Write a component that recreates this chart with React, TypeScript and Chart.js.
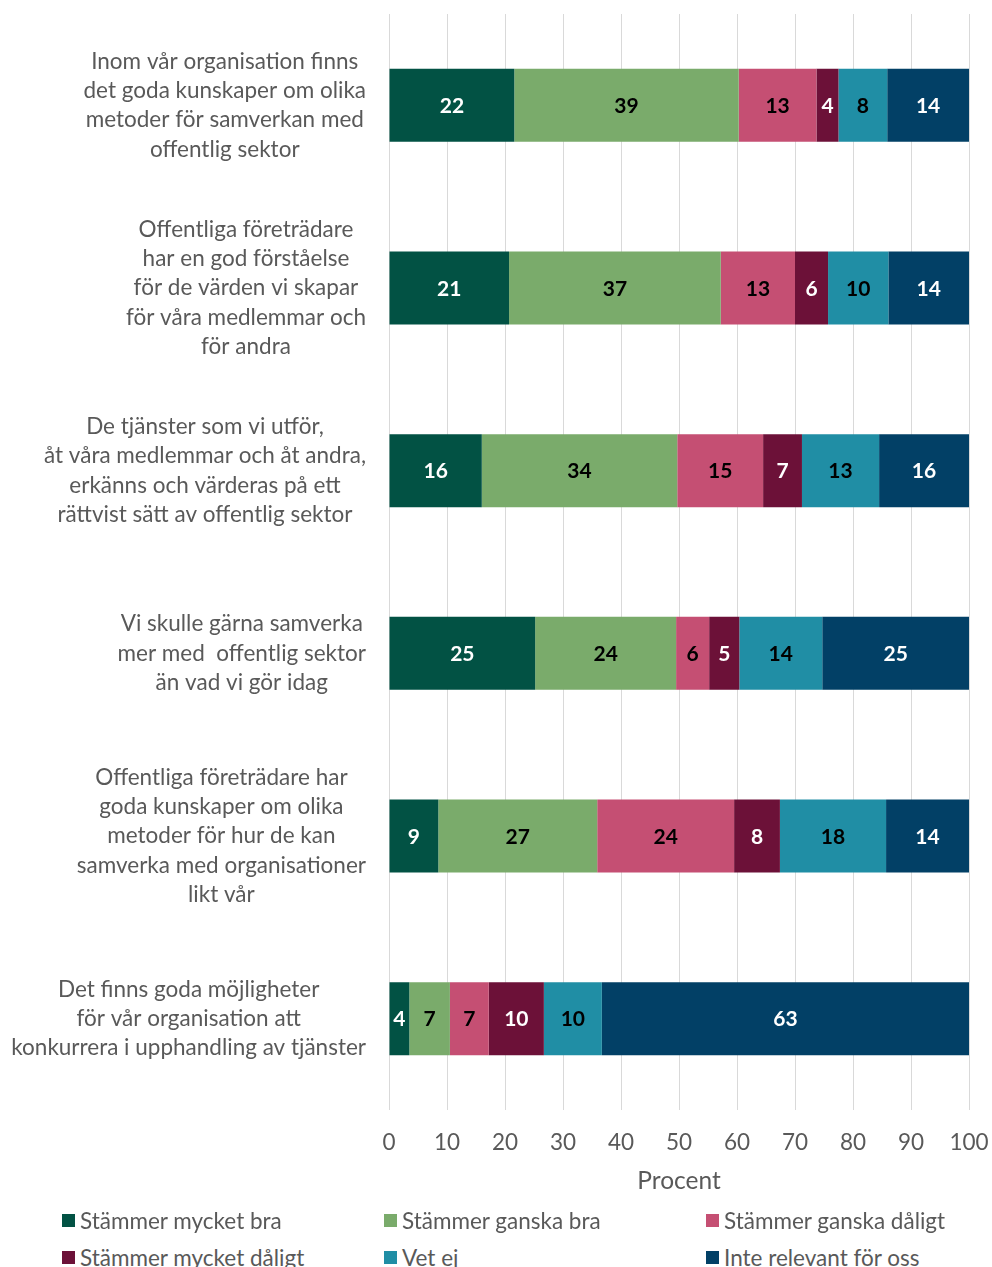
import React, { useEffect, useRef } from "react";
import { Chart, registerables } from "chart.js";

Chart.register(...registerables);

const categories: string[][] = [
  ["Inom vår organisation finns", "det goda kunskaper om olika", "metoder för samverkan med", "offentlig sektor"],
  ["Offentliga företrädare", "har en god förståelse", "för de värden vi skapar", "för våra medlemmar och", "för andra"],
  ["De tjänster som vi utför,", "åt våra medlemmar och åt andra,", "erkänns och värderas på ett", "rättvist sätt av offentlig sektor"],
  ["Vi skulle gärna samverka", "mer med  offentlig sektor", "än vad vi gör idag"],
  ["Offentliga företrädare har", "goda kunskaper om olika", "metoder för hur de kan", "samverka med organisationer", "likt vår"],
  ["Det finns goda möjligheter", "för vår organisation att", "konkurrera i upphandling av tjänster"],
];

const seriesNames = [
  "Stämmer mycket bra",
  "Stämmer ganska bra",
  "Stämmer ganska dåligt",
  "Stämmer mycket dåligt",
  "Vet ej",
  "Inte relevant för oss",
];

const mycketBra = [21.6, 20.7, 16.0, 25.2, 8.5, 3.5];
const ganskaBra = [38.7, 36.5, 33.7, 24.3, 27.4, 7.0];
const ganskaDaligt = [13.4, 12.8, 14.8, 5.7, 23.6, 6.7];
const mycketDaligt = [3.8, 5.7, 6.7, 5.2, 7.9, 9.5];
const vetEj = [8.4, 10.4, 13.3, 14.3, 18.3, 10.0];
const inteRelevant = [14.1, 13.9, 15.5, 25.3, 14.3, 63.3];

const xTicks = [0, 10, 20, 30, 40, 50, 60, 70, 80, 90, 100];

const colors = ["#025244", "#7AAB6B", "#C54F73", "#6C1138", "#208EA5", "#024066"];
const labelColors = ["#ffffff", "#000000", "#000000", "#ffffff", "#000000", "#ffffff"];

const FONT = "Lato, 'Open Sans', sans-serif";
const GREY = "#595959";

const labelsPlugin = {
  id: "customLabels",
  afterDraw(chart: any) {
    const ctx = chart.ctx;
    const yScale = chart.scales.y;
    const area = chart.chartArea;
    ctx.save();
    ctx.font = `22.5px ${FONT}`;
    ctx.fillStyle = GREY;
    ctx.textAlign = "center";
    ctx.textBaseline = "middle";
    const lineH = 29.3;
    const rightEdge = area.left - 23;
    categories.forEach((lines, i) => {
      const yc = yScale.getPixelForValue(i);
      const maxW = Math.max(...lines.map((l) => ctx.measureText(l).width));
      const cx = rightEdge - maxW / 2;
      const y0 = yc - ((lines.length - 1) * lineH) / 2;
      lines.forEach((l, j) => ctx.fillText(l, cx, y0 + j * lineH));
    });
    ctx.font = `bold 21px ${FONT}`;
    chart.data.datasets.forEach((ds: any, di: number) => {
      const meta = chart.getDatasetMeta(di);
      meta.data.forEach((el: any, i: number) => {
        const v = ds.data[i];
        const cx = (el.x + el.base) / 2;
        ctx.fillStyle = labelColors[di];
        ctx.fillText(String(Math.round(v)), cx, el.y + 1);
      });
    });
    ctx.restore();
  },
};

export default function App() {
  const ref = useRef<HTMLCanvasElement>(null);
  useEffect(() => {
    if (!ref.current) return;
    const seriesData = [mycketBra, ganskaBra, ganskaDaligt, mycketDaligt, vetEj, inteRelevant];
    const chart = new Chart(ref.current, {
      type: "bar",
      data: {
        labels: categories.map((c) => c.join(" ")),
        datasets: seriesData.map((d, i) => ({
          label: seriesNames[i],
          data: d,
          backgroundColor: colors[i],
          borderWidth: 0,
          barPercentage: 0.8,
          categoryPercentage: 0.5,
        })),
      },
      options: {
        indexAxis: "y",
        animation: false,
        responsive: false,
        layout: { padding: { left: 0, right: 23, top: 6, bottom: 0 } },
        plugins: { legend: { display: false }, tooltip: { enabled: false } },
        scales: {
          x: {
            stacked: true,
            min: 0,
            max: 100,
            afterBuildTicks: (scale: any) => {
              scale.ticks = xTicks.map((v) => ({ value: v }));
            },
            grid: { color: "#d9d9d9", drawTicks: false, lineWidth: 1 },
            border: { display: false },
            ticks: { color: GREY, font: { family: FONT, size: 22.5 }, padding: 19 },
            title: {
              display: true,
              text: "Procent",
              color: GREY,
              font: { family: FONT, size: 24.5 },
              padding: { top: 0, bottom: 12 },
            },
            afterFit: (scale: any) => {
              scale.height = 98;
              scale.paddingLeft = 0;
              scale.paddingRight = 0;
            },
          },
          y: {
            stacked: true,
            grid: { display: false },
            border: { display: false },
            ticks: { display: false },
            afterFit: (scale: any) => {
              scale.width = 381;
            },
          },
        },
      },
      plugins: [labelsPlugin],
    } as any);
    return () => chart.destroy();
  }, []);

  const legendPos = [
    { left: 54, top: 1200 },
    { left: 376, top: 1200 },
    { left: 698, top: 1200 },
    { left: 54, top: 1237 },
    { left: 376, top: 1237 },
    { left: 698, top: 1237 },
  ];

  return (
    <div style={{ position: "fixed", left: 8, top: 8, width: 984, height: 1259, overflow: "hidden", background: "#ffffff" }}>
      <canvas ref={ref} width={984} height={1200} style={{ display: "block" }} />
      {seriesNames.map((n, i) => (
        <div
          key={n}
          style={{
            position: "absolute",
            left: legendPos[i].left,
            top: legendPos[i].top,
            height: 24,
            display: "flex",
            alignItems: "center",
            fontFamily: FONT,
            fontSize: 22.5,
            color: GREY,
            whiteSpace: "nowrap",
          }}
        >
          <span style={{ display: "inline-block", width: 13, height: 13, background: colors[i], marginRight: 5 }} />
          {n}
        </div>
      ))}
    </div>
  );
}
